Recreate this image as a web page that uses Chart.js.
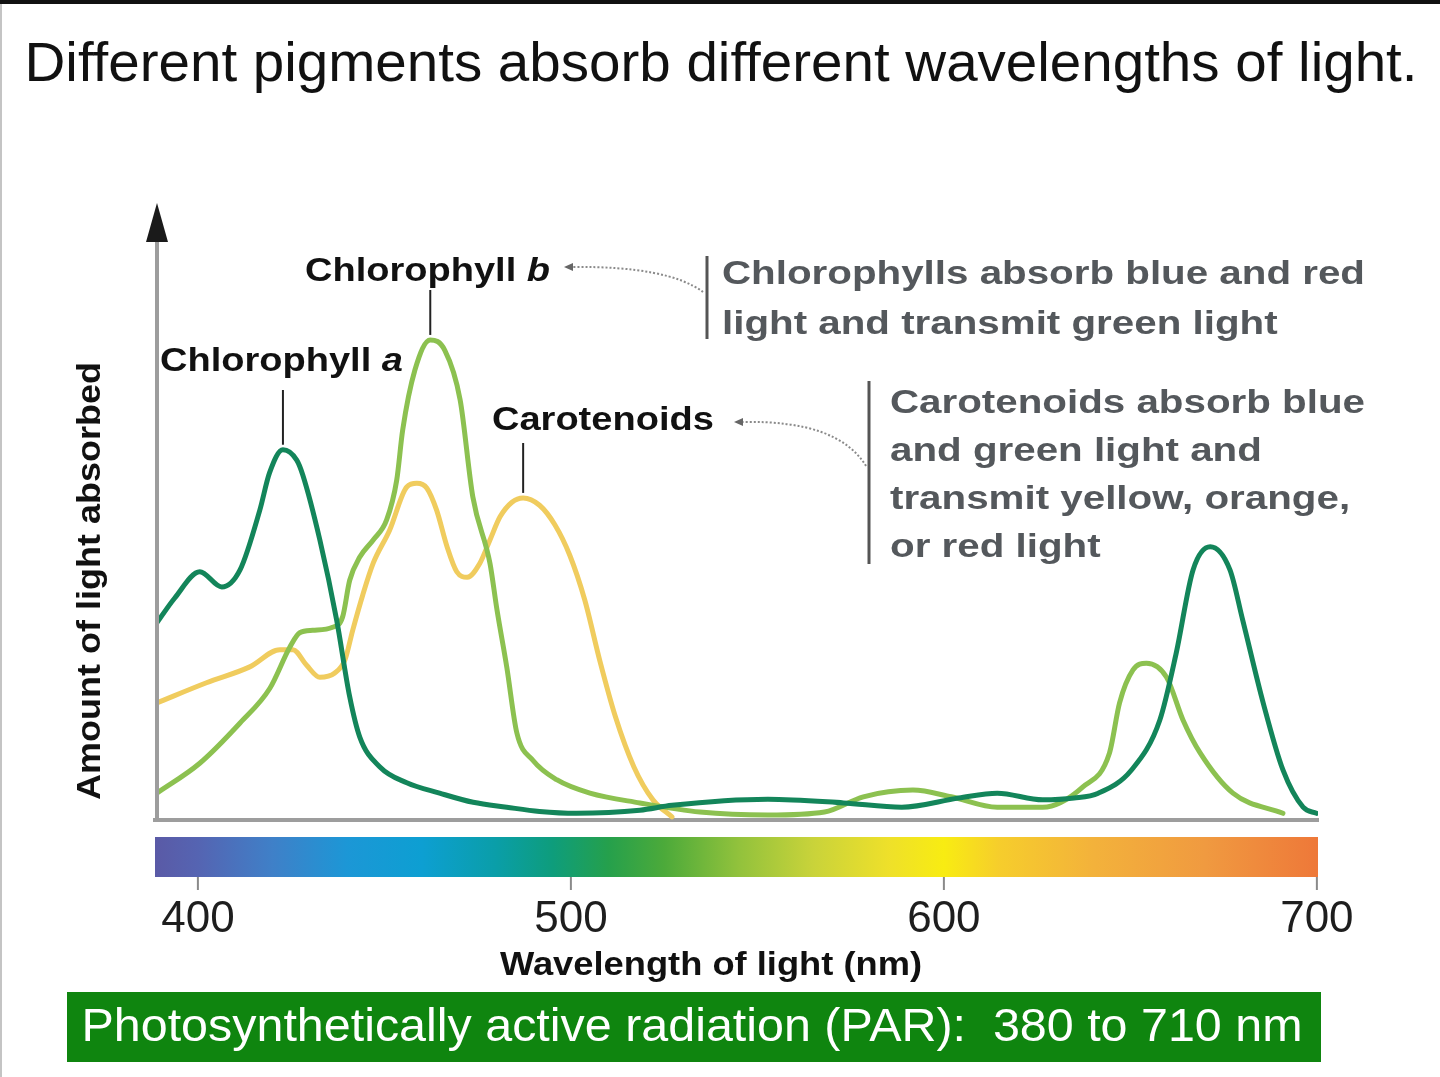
<!DOCTYPE html>
<html>
<head>
<meta charset="utf-8">
<title>Different pigments absorb different wavelengths of light</title>
<script src="https://cdn.jsdelivr.net/npm/chart.js@4.4.1/dist/chart.umd.min.js"></script>
<style>
  html, body { margin: 0; padding: 0; background: #fff; }
  canvas { display: block; }
</style>
</head>
<body>
<canvas id="spectrum-chart" width="1440" height="1077"></canvas>
<script>
// Absorption spectra (wavelength in nm, relative amount absorbed 0-100)
var chlANm = [388.4, 393.8, 400.5, 406.4, 411.3, 416.6, 419.2, 422.8, 426.5, 428.1, 432.7, 437.2, 440.7, 443.4, 448.8, 456, 464.8, 473.8, 482.8, 491.6, 501.5, 518.5, 527.1, 552.8, 573.1, 588.7, 604, 614.3, 626.5, 634.9, 641.4, 650.3, 657.9, 662.3, 666.8, 671.4, 676.7, 680.1, 685.6, 690.9, 696.3, 699.9];
var chlAVal = [31.8, 36.4, 40.7, 38.2, 41, 50.8, 56.9, 60.7, 59, 56.6, 45.9, 32.8, 20.2, 13.6, 8.7, 6.1, 4.4, 2.9, 2.1, 1.4, 1.1, 1.6, 2.4, 3.4, 2.8, 2.1, 3.6, 4.4, 3.3, 3.6, 4.4, 8.2, 16.4, 27.4, 41, 44.8, 41, 32.8, 19.2, 8.2, 2.1, 1.1];

var chlBNm = [389, 400.5, 411.3, 419.3, 424.7, 427.3, 430.8, 436.1, 438.8, 440.7, 443.4, 447, 450.6, 453.3, 454.9, 458.2, 462.3, 466.2, 470.3, 473.7, 478.3, 480.2, 482.8, 485.5, 489.8, 496.2, 505.1, 518.5, 534.6, 552.8, 568, 578.4, 591.7, 602, 614.3, 626.5, 637.2, 644.4, 647.1, 650.7, 654.3, 659.7, 664.1, 668.7, 677.5, 690.9];
var chlBVal = [4.4, 9.3, 15.9, 21.6, 28.4, 30.7, 31.1, 31.6, 33.3, 39.3, 43.1, 45.9, 49.2, 55.7, 63.9, 73.8, 78.7, 77, 68.9, 53, 42.1, 34.4, 25.1, 14.3, 9.8, 6.6, 4.4, 2.8, 1.3, 0.8, 1.3, 3.8, 4.9, 3.8, 2.1, 2.1, 5.4, 11, 19.2, 24.6, 25.7, 23.4, 16.4, 11, 4.4, 1.1];

var carNm = [389, 402.3, 413.9, 422, 425.5, 429.1, 432.7, 436.7, 439.4, 441.5, 444.2, 447, 451.4, 456, 458.7, 461.4, 464, 466.8, 469.4, 472.2, 475.6, 478.3, 481, 484.2, 487.2, 491.6, 495.7, 499.7, 503.7, 507.8, 511.9, 516.9, 522, 527.1];
var carVal = [19.2, 22.5, 25.1, 27.9, 27.9, 25.4, 23.4, 24.1, 26.2, 31.1, 36.9, 42.1, 47.5, 54.6, 55.2, 54.4, 50.8, 44.8, 40.7, 39.8, 42.1, 45.9, 49.7, 52.1, 52.8, 51.6, 48.4, 43.4, 36.1, 26, 17, 8.7, 3.3, 0.5];

var xTicks = [400, 500, 600, 700];

var FONT = 'Arial, "Liberation Sans", Helvetica, sans-serif';

function toPoints(xs, ys) {
    return xs.map(function (x, i) { return { x: x, y: ys[i] }; });
}

// index of the highest value at or beyond a given wavelength
function peakOf(xs, ys, fromNm) {
    var best = -1;
    for (var i = 0; i < xs.length; i++) {
        if (xs[i] >= fromNm && (best < 0 || ys[i] > ys[best])) best = i;
    }
    return best;
}

// draw text squeezed/stretched horizontally to a target width
function drawText(ctx, parts, x, y, opts) {
    ctx.save();
    var total = 0;
    parts.forEach(function (p) { ctx.font = p[1]; total += ctx.measureText(p[0]).width; });
    var sx = opts.sx || (opts.width ? opts.width / total : 1);
    ctx.translate(x, y);
    if (opts.rotate) ctx.rotate(opts.rotate);
    ctx.scale(sx, 1);
    ctx.fillStyle = opts.color || '#111';
    ctx.textBaseline = 'middle';
    ctx.textAlign = 'left';
    var cx = opts.align === 'center' ? -total / 2 : 0;
    parts.forEach(function (p) {
        ctx.font = p[1];
        ctx.fillText(p[0], cx, 0);
        cx += ctx.measureText(p[0]).width;
    });
    ctx.restore();
    return sx;
}

function dottedArrow(ctx, x0, y0, cx, cy, x1, y1) {
    ctx.save();
    ctx.strokeStyle = '#8a8a8a';
    ctx.lineWidth = 2;
    ctx.setLineDash([2, 2]);
    ctx.beginPath();
    ctx.moveTo(x0, y0);
    ctx.quadraticCurveTo(cx, cy, x1, y1);
    ctx.stroke();
    ctx.setLineDash([]);
    ctx.fillStyle = '#666';
    ctx.beginPath();
    ctx.moveTo(x1 - 9, y1);
    ctx.lineTo(x1, y1 - 4);
    ctx.lineTo(x1, y1 + 4);
    ctx.closePath();
    ctx.fill();
    ctx.restore();
}

function vline(ctx, x, y0, y1, color, w) {
    ctx.save();
    ctx.strokeStyle = color;
    ctx.lineWidth = w;
    ctx.beginPath();
    ctx.moveTo(x, y0);
    ctx.lineTo(x, y1);
    ctx.stroke();
    ctx.restore();
}

// pick a tick font size so "400" comes out about as wide as in the figure
var measureCtx = document.createElement('canvas').getContext('2d');
measureCtx.font = '46px ' + FONT;
var tickSize = Math.round(46 * 74 / measureCtx.measureText('400').width);

// Decorations: frame, y arrow, spectrum bar, titles, callouts, PAR box
var decorations = {
    id: 'decorations',
    afterDraw: function (chart) {
        var ctx = chart.ctx;
        var area = chart.chartArea;
        var xs = chart.scales.x;
        var ys = chart.scales.y;

        // page frame
        ctx.save();
        ctx.fillStyle = '#111';
        ctx.fillRect(0, 0, chart.width, 4);
        ctx.fillStyle = '#c4c4c4';
        ctx.fillRect(0, 4, 2, chart.height - 4);
        ctx.restore();

        // main title
        drawText(ctx, [['Different pigments absorb different wavelengths of light.', '56px ' + FONT]], 721, 66,
            { width: 1393, align: 'center', color: '#111' });

        // y axis with arrow head
        vline(ctx, area.left + 2, area.bottom + 2, area.top + 30, '#9d9d9d', 4);
        ctx.save();
        ctx.fillStyle = '#1a1a1a';
        ctx.beginPath();
        ctx.moveTo(area.left + 2, area.top - 7);
        ctx.lineTo(area.left - 9, area.top + 32);
        ctx.lineTo(area.left + 13, area.top + 32);
        ctx.closePath();
        ctx.fill();
        ctx.restore();

        // visible spectrum bar
        var barTop = area.bottom + 17, barH = 40;
        var grad = ctx.createLinearGradient(area.left, 0, area.right, 0);
        var stops = [[388.5, '#5a5aa6'], [400, '#5564b2'], [420, '#3f80c8'], [440, '#1c97d6'],
            [460, '#0d9fd2'], [480, '#0a9ea8'], [495, '#0e9d7c'], [510, '#25a04c'], [525, '#4caa3a'],
            [545, '#92c23c'], [565, '#c9d33a'], [585, '#eee02a'], [600, '#f8ec12'], [615, '#f6cd2c'],
            [640, '#f3b23b'], [670, '#f09a40'], [700.3, '#ee7839']];
        stops.forEach(function (s) {
            var p = (xs.getPixelForValue(s[0]) - area.left) / (area.right - area.left);
            grad.addColorStop(Math.min(1, Math.max(0, p)), s[1]);
        });
        ctx.fillStyle = grad;
        ctx.fillRect(area.left, barTop, area.right - area.left, barH);

        // small tick marks under the bar
        xTicks.forEach(function (t) {
            var px = xs.getPixelForValue(t);
            vline(ctx, px, barTop + barH, barTop + barH + 13, '#8a8a8a', 2);
        });

        // axis titles
        drawText(ctx, [['Wavelength of light (nm)', 'bold 34px ' + FONT]], 711, 966,
            { width: 422, align: 'center', color: '#111' });
        drawText(ctx, [['Amount of light absorbed', 'bold 34px ' + FONT]], 91, 581,
            { width: 438, align: 'center', color: '#111', rotate: -Math.PI / 2 });

        // pigment labels with leader lines to their peaks
        var ia = peakOf(chlANm, chlAVal, 0);
        var ib = peakOf(chlBNm, chlBVal, 0);
        var ic = peakOf(carNm, carVal, 475);
        var sxLab = drawText(ctx, [['Chlorophyll ', 'bold 34px ' + FONT], ['b', 'italic bold 34px ' + FONT]],
            305, 272, { width: 245, color: '#111' });
        drawText(ctx, [['Chlorophyll ', 'bold 34px ' + FONT], ['a', 'italic bold 34px ' + FONT]],
            160, 362, { sx: sxLab, color: '#111' });
        drawText(ctx, [['Carotenoids', 'bold 34px ' + FONT]], 492, 421, { sx: sxLab, color: '#111' });
        vline(ctx, xs.getPixelForValue(chlANm[ia]), 390, ys.getPixelForValue(chlAVal[ia]) - 5, '#222', 2);
        vline(ctx, xs.getPixelForValue(chlBNm[ib]), 290, ys.getPixelForValue(chlBVal[ib]) - 5, '#222', 2);
        vline(ctx, xs.getPixelForValue(carNm[ic]), 443, ys.getPixelForValue(carVal[ic]) - 5, '#222', 2);

        // explanatory notes
        var gray = '#54585c';
        vline(ctx, 707, 256, 339, '#555', 3);
        var sxNote = drawText(ctx, [['Chlorophylls absorb blue and red', 'bold 34px ' + FONT]], 722, 275,
            { width: 643, color: gray });
        drawText(ctx, [['light and transmit green light', 'bold 34px ' + FONT]], 722, 325, { sx: sxNote, color: gray });
        dottedArrow(ctx, 703, 292, 668, 266, 573, 267);

        vline(ctx, 869, 381, 564, '#555', 3);
        var notes = ['Carotenoids absorb blue', 'and green light and', 'transmit yellow, orange,', 'or red light'];
        notes.forEach(function (line, i) {
            drawText(ctx, [[line, 'bold 34px ' + FONT]], 890, 404 + i * 48, { sx: sxNote, color: gray });
        });
        dottedArrow(ctx, 866, 466, 838, 420, 743, 422);

        // PAR banner
        ctx.save();
        ctx.fillStyle = '#0f850f';
        ctx.fillRect(67, 992, 1254, 70);
        ctx.restore();
        drawText(ctx, [['Photosynthetically active radiation (PAR):  380 to 710 nm', '46px ' + FONT]], 692, 1028,
            { width: 1221, align: 'center', color: '#ffffff' });
    }
};

var ctx = document.getElementById('spectrum-chart');

var chartData = {
    datasets: [
        {
            label: 'Chlorophyll a',
            data: toPoints(chlANm, chlAVal),
            borderColor: '#13855a',
        },
        {
            label: 'Chlorophyll b',
            data: toPoints(chlBNm, chlBVal),
            borderColor: '#8cc150',
        },
        {
            label: 'Carotenoids',
            data: toPoints(carNm, carVal),
            borderColor: '#f0cc5e',
        },
    ],
};

var chartOptions = {
    responsive: false,
    devicePixelRatio: 1,
    animation: false,
    layout: { padding: { left: 155, right: 122, top: 210, bottom: 117 } },
    elements: {
        line: { borderWidth: 5, cubicInterpolationMode: 'monotone', fill: false, borderCapStyle: 'round' },
        point: { radius: 0 },
    },
    scales: {
        x: {
            type: 'linear',
            min: 388.5,
            max: 700.3,
            afterBuildTicks: function (scale) {
                scale.ticks = xTicks.map(function (v) { return { value: v }; });
            },
            afterFit: function (scale) { scale.height = 140; },
            grid: { display: false, drawTicks: false },
            border: { display: true, color: '#9d9d9d', width: 4 },
            ticks: {
                padding: 73,
                maxRotation: 0,
                autoSkip: false,
                color: '#1e1e1e',
                font: { family: FONT, size: tickSize },
            },
        },
        y: {
            display: false,
            min: 0,
            max: 100,
        },
    },
    plugins: {
        legend: { display: false },
        tooltip: { enabled: false },
        title: { display: false },
    },
};

var spectrumChart = new Chart(ctx, {
    type: 'line',
    data: chartData,
    options: chartOptions,
    plugins: [decorations],
});
</script>
</body>
</html>
